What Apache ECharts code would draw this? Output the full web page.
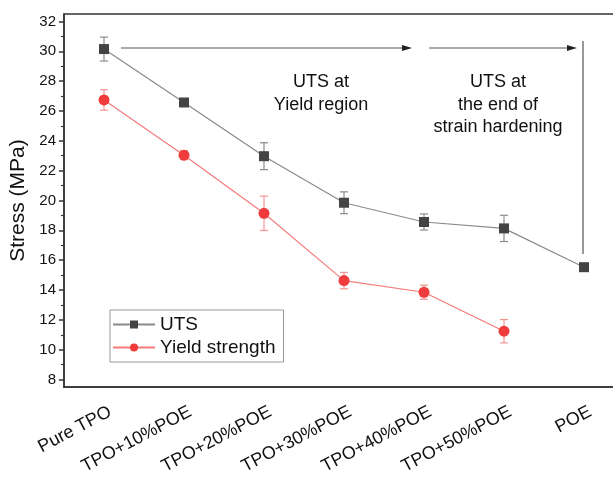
<!DOCTYPE html>
<html>
<head>
<meta charset="utf-8">
<script src="https://cdn.jsdelivr.net/npm/echarts@6/dist/echarts.min.js"></script>
<style>
  html, body { margin: 0; padding: 0; background: #fff; }
  #chart { width: 613px; height: 477px; }
</style>
</head>
<body>
<div id="chart"></div>
<script>
// categories + values
const categories = ['Pure TPO', 'TPO+10%POE', 'TPO+20%POE', 'TPO+30%POE', 'TPO+40%POE', 'TPO+50%POE', 'POE'];
const utsValues = [30.15, 26.57, 22.97, 19.85, 18.56, 18.13, 15.53];
const utsErrors = [0.8, 0.1, 0.9, 0.73, 0.54, 0.88, 0.2];
const yieldValues = [26.74, 23.04, 19.14, 14.63, 13.85, 11.24];
const yieldErrors = [0.69, 0.3, 1.15, 0.55, 0.47, 0.78];
const yMajorTicks = [8, 10, 12, 14, 16, 18, 20, 22, 24, 26, 28, 30, 32];
const yMinorTicks = [9, 11, 13, 15, 17, 19, 21, 23, 25, 27, 29, 31];

const FONT = "'Liberation Sans', Arial, sans-serif";

let chart = echarts.init(document.getElementById('chart'));

// error bar data: [index, low, high]
function errData(vals, errs) {
  let out = [];
  for (let i = 0; i < vals.length; i++) {
    out.push([i, vals[i] - errs[i], vals[i] + errs[i]]);
  }
  return out;
}

function errorBar(color) {
  return function (params, api) {
    let lo = api.coord([api.value(0), api.value(1)]);
    let hi = api.coord([api.value(0), api.value(2)]);
    let w = 4;
    let st = { stroke: color, lineWidth: 1.2 };
    return {
      type: 'group',
      children: [
        { type: 'line', shape: { x1: lo[0], y1: lo[1], x2: hi[0], y2: hi[1] }, style: st },
        { type: 'line', shape: { x1: lo[0] - w, y1: lo[1], x2: lo[0] + w, y2: lo[1] }, style: st },
        { type: 'line', shape: { x1: hi[0] - w, y1: hi[1], x2: hi[0] + w, y2: hi[1] }, style: st }
      ]
    };
  };
}

// little arrow helper for the annotations
function arrow(x1, x2, y) {
  return [
    { type: 'line', shape: { x1: x1, y1: y, x2: x2 - 8, y2: y }, style: { stroke: '#555', lineWidth: 1 } },
    { type: 'polygon', shape: { points: [[x2, y], [x2 - 10, y - 3], [x2 - 10, y + 3]] }, style: { fill: '#222' } }
  ];
}

let option = {
  animation: false,
  textStyle: { fontFamily: FONT },
  grid: {
    left: 64,
    top: 14,
    width: 560,
    height: 373,
    show: true,
    borderColor: '#333',
    borderWidth: 1.5,
    outerBoundsMode: 'none'
  },
  legend: {
    left: 110,
    top: 310,
    orient: 'vertical',
    borderColor: '#999',
    borderWidth: 1,
    padding: [5, 8, 5, 2],
    itemWidth: 42,
    itemHeight: 10,
    itemGap: 4,
    textStyle: { fontSize: 19, color: '#111', fontFamily: FONT },
    data: ['UTS', 'Yield strength']
  },
  xAxis: [
    {
      type: 'category',
      data: categories,
      boundaryGap: true,
      axisLine: { lineStyle: { color: '#333', width: 1.5 } },
      axisTick: { alignWithLabel: true, length: 6, lineStyle: { color: '#333', width: 1.5 } },
      axisLabel: { rotate: 28, margin: 27, fontSize: 18, color: '#111', fontFamily: FONT, padding: [0, -7, 0, 0] },
      splitLine: { show: false }
    },
    {
      // minor ticks between categories
      type: 'category',
      data: categories,
      position: 'bottom',
      boundaryGap: true,
      axisLine: { show: false },
      axisTick: { length: 3, lineStyle: { color: '#333', width: 1.2 } },
      axisLabel: { show: false },
      splitLine: { show: false }
    }
  ],
  yAxis: [
    {
      type: 'value',
      min: 7.5,
      max: 32.5,
      name: 'Stress (MPa)',
      nameLocation: 'middle',
      nameGap: 31,
      nameTextStyle: { fontSize: 21, color: '#111', fontFamily: FONT },
      axisLine: { show: true, lineStyle: { color: '#333', width: 1.5 } },
      axisTick: { show: true, length: 5, customValues: yMajorTicks, lineStyle: { color: '#333', width: 1.5 } },
      axisLabel: { customValues: yMajorTicks, fontSize: 15, color: '#111', margin: 8, fontFamily: FONT },
      splitLine: { show: false }
    },
    {
      type: 'value',
      position: 'left',
      min: 7.5,
      max: 32.5,
      axisLine: { show: false },
      axisTick: { show: true, length: 3, customValues: yMinorTicks, lineStyle: { color: '#333', width: 1.2 } },
      axisLabel: { show: false },
      splitLine: { show: false }
    }
  ],
  series: [
    {
      type: 'custom',
      name: 'utsErr',
      renderItem: errorBar('#8a8a8a'),
      data: errData(utsValues, utsErrors),
      z: 1
    },
    {
      type: 'custom',
      name: 'yieldErr',
      renderItem: errorBar('#f49494'),
      data: errData(yieldValues, yieldErrors),
      z: 1
    },
    {
      name: 'UTS',
      type: 'line',
      data: utsValues,
      symbol: 'rect',
      symbolSize: 10,
      itemStyle: { color: '#444' },
      lineStyle: { color: '#8a8a8a', width: 1.2 },
      z: 3
    },
    {
      name: 'Yield strength',
      type: 'line',
      data: yieldValues,
      symbol: 'circle',
      symbolSize: 11,
      itemStyle: { color: '#ef3b3b' },
      lineStyle: { color: '#f57a7a', width: 1.2 },
      z: 3
    }
  ],
  graphic: [
    ...arrow(121, 412, 48),
    ...arrow(429, 577, 48),
    { type: 'line', shape: { x1: 583, y1: 41, x2: 583, y2: 254 }, style: { stroke: '#777', lineWidth: 1.5 } },
    {
      type: 'text', x: 321, y: 94,
      style: { text: 'UTS at\nYield region', font: '18px ' + FONT, fill: '#111', align: 'center', verticalAlign: 'middle', lineHeight: 23 }
    },
    {
      type: 'text', x: 498, y: 105,
      style: { text: 'UTS at\nthe end of\nstrain hardening', font: '18px ' + FONT, fill: '#111', align: 'center', verticalAlign: 'middle', lineHeight: 22.5 }
    }
  ]
};

chart.setOption(option);
</script>
</body>
</html>
